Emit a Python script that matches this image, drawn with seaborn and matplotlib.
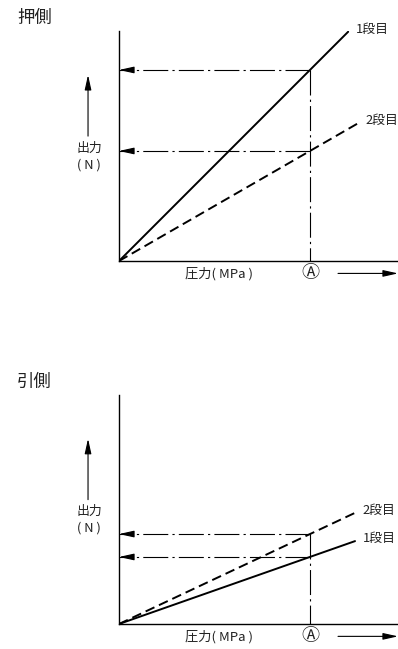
import matplotlib
matplotlib.use("Agg")
import matplotlib.pyplot as plt
import pandas as pd
import seaborn as sns

# ---------------- data ----------------
stages = ["1段目", "2段目"]
pressure_A = 1.0
# push side (押側)
push_pressure_end = [1.20, 1.25]
push_force_end = [1.20, 0.72]
push_force_at_A = [1.00, 0.576]
# pull side (引側)
pull_pressure_end = [1.236, 1.236]
pull_force_end = [0.434, 0.582]
pull_force_at_A = [0.351, 0.471]

panel_titles = ["押側", "引側"]
y_label_lines = ["出力", "( N )"]
x_label = "圧力( MPa )"
a_label = "Ⓐ"

# ---------------- style ----------------
sns.set_style("white")
plt.rcParams["font.family"] = ["Noto Sans CJK JP", "DejaVu Sans"]
plt.rcParams["lines.scale_dashes"] = False

W, H = 398, 649
fig = plt.figure(figsize=(W / 100, H / 100), dpi=100)

TXT = "#222222"
DASHDOT = (18, 3, 1.6, 3)
DASHED = (7, 3.6)
HEAD = "-|>,head_length=0.9,head_width=0.2"


def px_axes(left, top, right, bottom):
    return fig.add_axes([left / W, 1 - bottom / H, (right - left) / W, (bottom - top) / H])


def draw_panel(ax, pe, fe, fA, ylim, title, title_y):
    df = pd.DataFrame({
        "pressure": [0.0, pe[0], 0.0, pe[1]],
        "force": [0.0, fe[0], 0.0, fe[1]],
        "stage": [stages[0], stages[0], stages[1], stages[1]],
    })
    sns.lineplot(data=df, x="pressure", y="force", style="stage",
                 dashes={stages[0]: "", stages[1]: DASHED},
                 color="black", linewidth=1.4, estimator=None, sort=False,
                 legend=False, ax=ax)
    # reference lines at pressure A
    for f in fA:
        ax.plot([pressure_A, 0.0], [f, f], color="black", lw=0.8, dashes=DASHDOT)
        ax.annotate("", xy=(0.0, f), xytext=(0.07, f),
                    arrowprops=dict(arrowstyle=HEAD, color="black", lw=0.8,
                                    shrinkA=0, shrinkB=0, mutation_scale=10))
    ax.plot([pressure_A, pressure_A], [max(fA), 0.0], color="black", lw=0.8,
            dashes=DASHDOT)
    # stage labels
    for i, s in enumerate(stages):
        ax.annotate(s, xy=(pe[i], fe[i]), xytext=(5.5, 2), textcoords="offset points",
                    ha="left", va="center", fontsize=9.3, color=TXT)
    ax.set_xlim(0, 1.461)
    ax.set_ylim(0, ylim)
    ax.set_xticks([])
    ax.set_yticks([])
    ax.set_xlabel("")
    ax.set_ylabel("")
    sns.despine(ax=ax)
    for sp in ("left", "bottom"):
        ax.spines[sp].set_color("black")
        ax.spines[sp].set_linewidth(1.0)
    # Ⓐ marker below the axis
    ax.annotate(a_label, xy=(pressure_A, 0.0), xytext=(0, -9.0), textcoords="offset points",
                ha="center", va="center", fontsize=13, color=TXT)
    # x label
    ax.text(0.36, -0.054, x_label, transform=ax.transAxes, ha="center", va="center",
            fontsize=9.5, color=TXT)
    # right arrow
    ax.annotate("", xy=(1.0, -0.054), xycoords="axes fraction",
                xytext=(0.785, -0.054), textcoords="axes fraction",
                arrowprops=dict(arrowstyle=HEAD, color="black", lw=0.8,
                                shrinkA=0, shrinkB=0, mutation_scale=10))
    # up arrow
    ax.annotate("", xy=(-0.111, 0.809), xycoords="axes fraction",
                xytext=(-0.111, 0.543), textcoords="axes fraction",
                arrowprops=dict(arrowstyle=HEAD, color="black", lw=0.8,
                                shrinkA=0, shrinkB=0, mutation_scale=10))
    ax.text(-0.107, 0.49, y_label_lines[0], transform=ax.transAxes, ha="center",
            va="center", fontsize=9.3, color=TXT)
    ax.text(-0.107, 0.418, y_label_lines[1], transform=ax.transAxes, ha="center",
            va="center", fontsize=9.3, color=TXT)
    fig.text(17 / W, 1 - title_y / H, title, ha="left", va="center", fontsize=12.5,
             color=TXT)


ax1 = px_axes(119, 31, 398, 261)
draw_panel(ax1, push_pressure_end, push_force_end, push_force_at_A, 1.204,
           panel_titles[0], 18)

ax2 = px_axes(119, 395, 398, 624)
draw_panel(ax2, pull_pressure_end, pull_force_end, pull_force_at_A, 1.199,
           panel_titles[1], 382)

fig.savefig("out.png", dpi=100)
